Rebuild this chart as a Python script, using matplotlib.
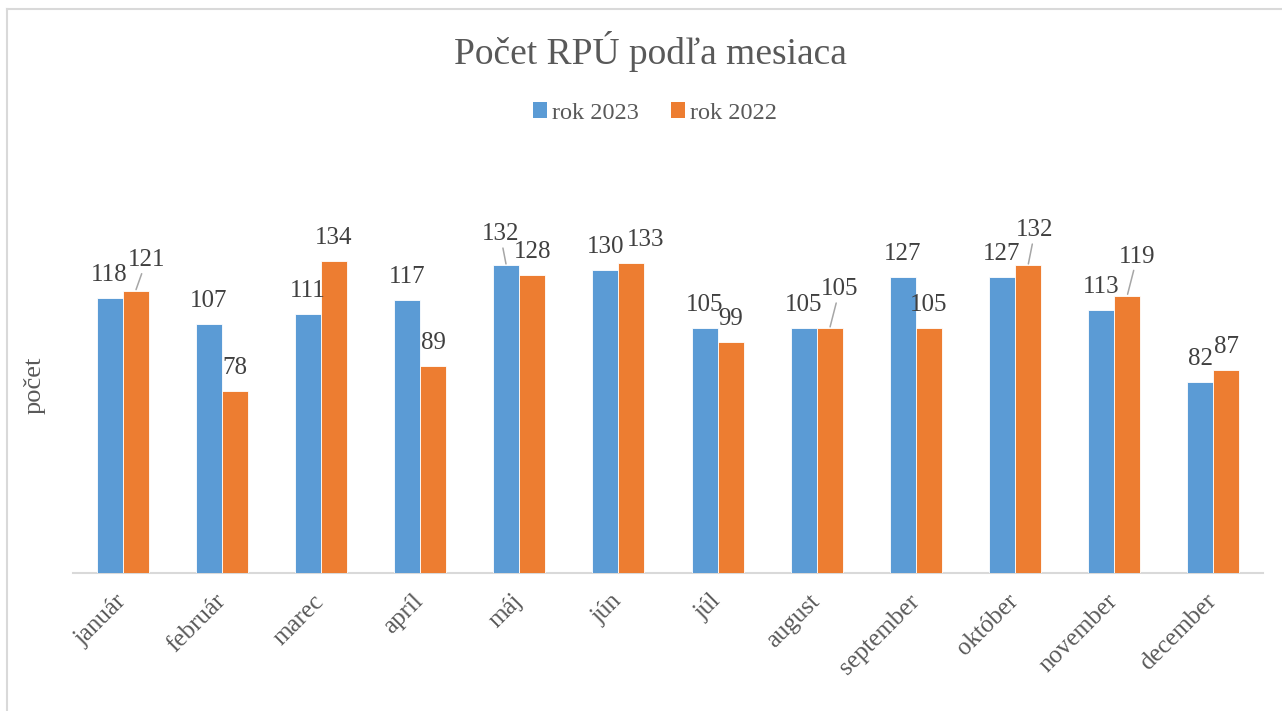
import matplotlib.pyplot as plt
from matplotlib.lines import Line2D
from matplotlib.patches import Patch

# ── Data ─────────────────────────────────────────────────────────────────────
MONTHS = ["január", "február", "marec", "apríl", "máj", "jún",
          "júl", "august", "september", "október", "november", "december"]
ROK_2023 = [118, 107, 111, 117, 132, 130, 105, 105, 127, 127, 113, 82]
ROK_2022 = [121, 78, 134, 89, 128, 133, 99, 105, 105, 132, 119, 87]
SERIES_NAMES = ["rok 2023", "rok 2022"]
TITLE = "Počet RPÚ podľa mesiaca"
Y_LABEL = "počet"

# ── Style ────────────────────────────────────────────────────────────────────
BLUE = "#5B9BD5"
ORANGE = "#ED7D31"
TEXT_DARK = "#404040"
TEXT_GREY = "#595959"
AXIS_GREY = "#D9D9D9"
LEADER_GREY = "#A6A6A6"
BAR_W = 0.262
LABEL_SIZE = 18
DEFAULT_OFFSET = (0, 17)   # pixels above the bar top (baseline)

# manually moved labels (series index, month index) -> (dx, dy, leader line)
LABEL_MOVES = {
    (1, 0): (11, 25, True),
    (0, 4): (-6, 25, True),
    (1, 5): (14, 17, False),
    (1, 7): (10, 33, True),
    (1, 9): (7, 29, True),
    (1, 10): (10, 33, True),
}

plt.rcParams["font.family"] = ["Liberation Serif", "DejaVu Serif"]

W, H = 1282, 711
fig = plt.figure(figsize=(W / 100, H / 100), dpi=100)
ax = fig.add_axes([73 / W, 1 - 573 / H, (1263 - 73) / W, 373 / H])

x = list(range(len(MONTHS)))
series = [ROK_2023, ROK_2022]
colors = [BLUE, ORANGE]
shifts = [-BAR_W / 2, BAR_W / 2]

for s, (vals, col, sh) in enumerate(zip(series, colors, shifts)):
    xs = [i + sh for i in x]
    ax.bar(xs, vals, width=BAR_W, color=col, edgecolor="white", linewidth=0.6,
           zorder=2)
    for i, (xi, v) in enumerate(zip(xs, vals)):
        dx, dy, leader = LABEL_MOVES.get((s, i), (*DEFAULT_OFFSET, False))
        arrow = None
        if leader:
            arrow = dict(arrowstyle="-", color=LEADER_GREY, lw=1.1,
                         shrinkA=0, shrinkB=1)
        ax.annotate(str(v), xy=(xi, v), xytext=(dx, dy),
                    textcoords="offset pixels", ha="center", va="baseline",
                    fontsize=LABEL_SIZE, color=TEXT_DARK, arrowprops=arrow,
                    zorder=3)

ax.set_xlim(-0.5, len(MONTHS) - 0.5)
ax.set_ylim(0, 160)
ax.set_yticks([])
ax.set_xticks(x)
ax.set_xticklabels(MONTHS, rotation=45, ha="right", va="center",
                   rotation_mode="anchor", fontsize=18, color=TEXT_GREY)
ax.tick_params(axis="x", length=0, pad=18)
for side in ["left", "right", "top"]:
    ax.spines[side].set_visible(False)
ax.spines["bottom"].set_color(AXIS_GREY)
ax.spines["bottom"].set_linewidth(1.5)
ax.spines["bottom"].set_zorder(1)

fig.text(35 / W, 1 - 385 / H, Y_LABEL, rotation=90, ha="center", va="center",
         fontsize=19, color=TEXT_GREY)
fig.text(650 / W, 1 - 52 / H, TITLE, ha="center", va="center",
         fontsize=27, color=TEXT_GREY)

handles = [Patch(facecolor=c, edgecolor="none") for c in colors]
fig.legend(handles, SERIES_NAMES, loc="center", ncol=2, frameon=False,
           bbox_to_anchor=(655 / W, 1 - 113 / H), fontsize=17.5,
           handlelength=0.6, handleheight=0.6, handletextpad=0.2,
           columnspacing=1.3, labelcolor=TEXT_GREY)

# chart area border (left and top edges visible)
fig.add_artist(Line2D([7 / W, 7 / W], [0, 1 - 9 / H], transform=fig.transFigure,
                      color=AXIS_GREY, lw=1.5))
fig.add_artist(Line2D([7 / W, 1], [1 - 9 / H, 1 - 9 / H],
                      transform=fig.transFigure, color=AXIS_GREY, lw=1.5))

fig.savefig("out.png", dpi=100)
